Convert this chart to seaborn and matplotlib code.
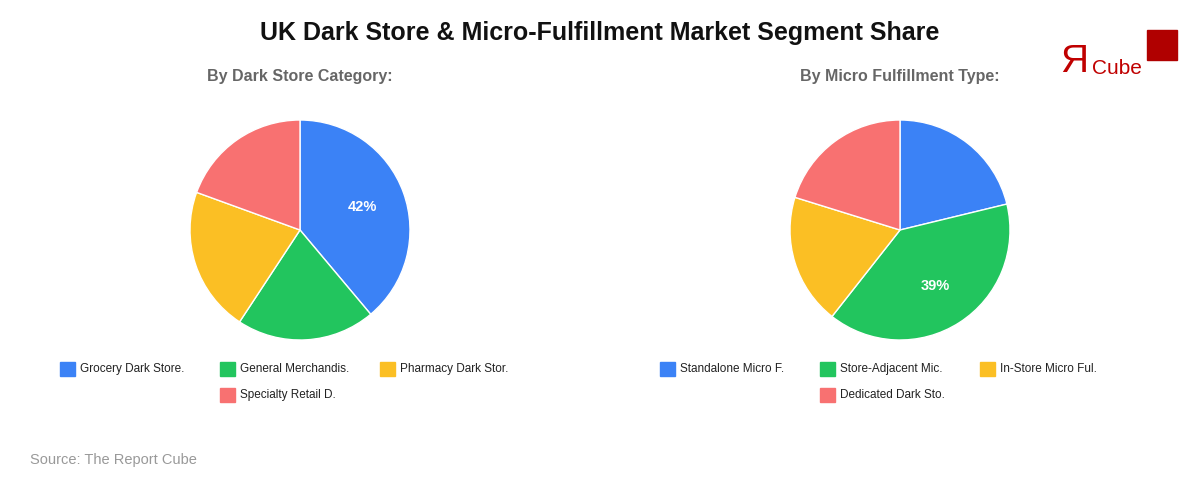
import matplotlib
matplotlib.use('Agg')
import matplotlib.pyplot as plt
import matplotlib.patches as mpatches
import numpy as np
import seaborn as sns

sns.set_theme(style='white')
plt.rcParams['font.family'] = ['Liberation Sans', 'DejaVu Sans']

# ===== 数据 =====
title = 'UK Dark Store & Micro-Fulfillment Market Segment Share'
left_title = 'By Dark Store Category:'
left_labels = ['Grocery Dark Store.', 'General Merchandis.', 'Pharmacy Dark Stor.', 'Specialty Retail D.']
left_values = [42, 22, 23, 21]
right_title = 'By Micro Fulfillment Type:'
right_labels = ['Standalone Micro F.', 'Store-Adjacent Mic.', 'In-Store Micro Ful.', 'Dedicated Dark Sto.']
right_values = [21, 39, 19, 20]
colors = sns.color_palette(['#3b82f6', '#22c55e', '#fbbf24', '#f87171'])

W, H = 1200, 480
fig = plt.figure(figsize=(12, 4.8), dpi=100)
fig.patch.set_facecolor('white')

fig.text(600 / W, 1 - 33 / H, title, ha='center', va='center', fontsize=18, fontweight='bold', color='#111111')


def draw_pie(cx, sub, labels, values):
    r = 110
    ax = fig.add_axes([(cx - r) / W, 1 - (230 + r) / H, 2 * r / W, 2 * r / H])
    wedges, _ = ax.pie(values, colors=colors, startangle=90, counterclock=False,
                       wedgeprops=dict(edgecolor='white', linewidth=1))
    ax.set_xlim(-1, 1)
    ax.set_ylim(-1, 1)
    ax.set_aspect('equal')
    ax.axis('off')
    # 只标注最大的扇区（原始数值）
    i = values.index(max(values))
    w = wedges[i]
    ang = np.deg2rad((w.theta1 + w.theta2) / 2)
    ax.text(0.6 * np.cos(ang), 0.6 * np.sin(ang), f'{values[i]}%', ha='center', va='center',
            color='white', fontsize=10.5, fontweight='bold')
    fig.text(cx / W, 1 - 77 / H, sub, ha='center', va='center', fontsize=11.5,
             fontweight='bold', color='#666666')
    # 图例
    x0 = cx - 240
    for k, lab in enumerate(labels):
        col = k % 3 if k < 3 else 1
        row = 0 if k < 3 else 1
        x = x0 + col * 160
        y = 369 + row * 26
        fig.patches.append(mpatches.Rectangle((x / W, 1 - (y + 7) / H), 15 / W, 14 / H,
                                              transform=fig.transFigure, color=colors[k]))
        fig.text((x + 20) / W, 1 - y / H, lab, ha='left', va='center', fontsize=8.5, color='#222222')


draw_pie(300, left_title, left_labels, left_values)
draw_pie(900, right_title, right_labels, right_values)

fig.text(30 / W, 1 - 460 / H, 'Source: The Report Cube', ha='left', va='center', fontsize=10.5, color='#999999')

# logo
fig.text(1060 / W, 1 - 62 / H, 'Я', ha='left', va='center', fontsize=28, color='#c00000')
fig.text(1092 / W, 1 - 68 / H, 'Cube', ha='left', va='center', fontsize=15, color='#c00000')
fig.patches.append(mpatches.Rectangle((1147 / W, 1 - 60 / H), 30 / W, 30 / H,
                                      transform=fig.transFigure, color='#b00000'))

plt.savefig('out.png', dpi=100, facecolor='white')
plt.close()
